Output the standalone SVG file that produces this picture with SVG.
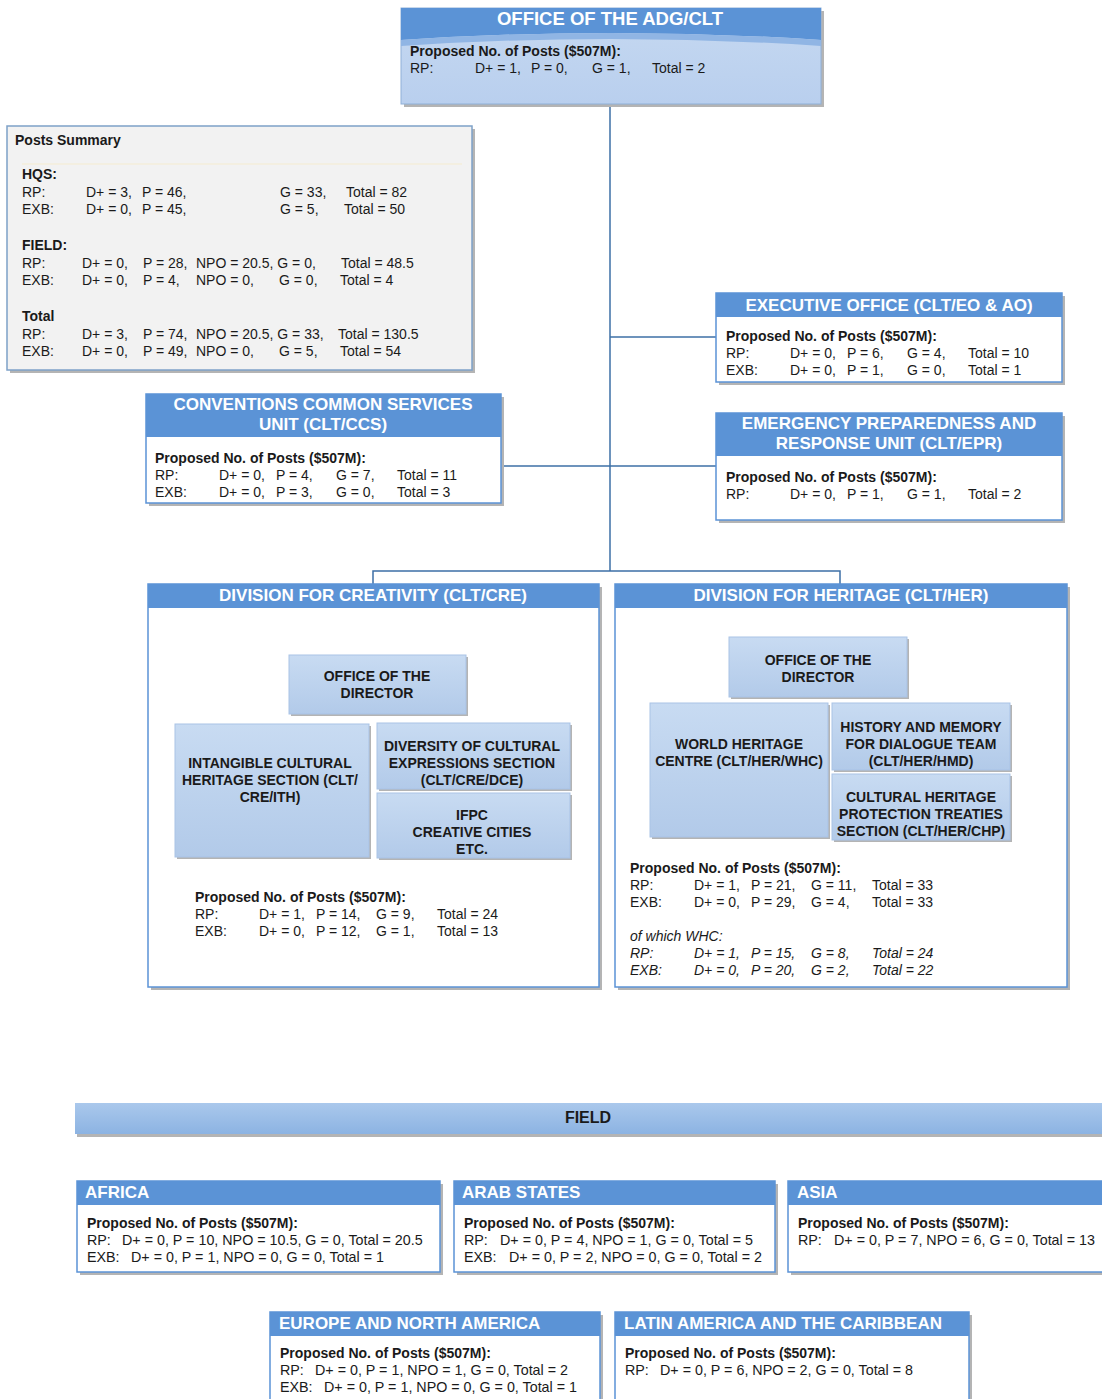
<svg xmlns="http://www.w3.org/2000/svg" width="1102" height="1399" viewBox="0 0 1102 1399">
<style>
.t{font-family:"Liberation Sans",Arial,sans-serif;font-size:14px;fill:#1a1a1a}
.f{font-size:14.3px}
.b{font-weight:bold}
.i{font-style:italic}
.h{font-family:"Liberation Sans",Arial,sans-serif;font-size:17px;font-weight:bold;fill:#ffffff}
.s{font-family:"Liberation Sans",Arial,sans-serif;font-size:14px;font-weight:bold;fill:#1a1a1a;text-anchor:middle}
.hb{fill:#5b93d6}
.wb{fill:#ffffff;stroke:#5b93d6;stroke-width:1.5}
.sh{fill:#b4b4b4}
.sub{fill:url(#subg);stroke:#a9c3e6;stroke-width:1}
.con{stroke:#3d6fa6;stroke-width:1.5;fill:none}
</style>
<defs>
<linearGradient id="subg" x1="0" y1="0" x2="0" y2="1"><stop offset="0" stop-color="#c8dbf2"/><stop offset="1" stop-color="#b2cae9"/></linearGradient>
<linearGradient id="topg" x1="0" y1="0" x2="0" y2="1"><stop offset="0" stop-color="#c6d9f1"/><stop offset="1" stop-color="#b9cfee"/></linearGradient>
<linearGradient id="fieldg" x1="0" y1="0" x2="0" y2="1"><stop offset="0" stop-color="#aac8ec"/><stop offset="1" stop-color="#8cb3e2"/></linearGradient>
</defs>

<g id="connectors">
<path class="con" d="M610,104 V571"/>
<path class="con" d="M610,337 H716"/>
<path class="con" d="M502,466 H716"/>
<path class="con" d="M373,584 V571 H840 V584"/>
</g>

<g id="adg">
<rect class="sh" x="404" y="11" width="420" height="96"/>
<rect x="401" y="8" width="420" height="96" fill="url(#topg)" stroke="#8fb0d8" stroke-width="1"/>
<path d="M401,8 H821 V40 Q611,26 401,40 Z" fill="#5b93d6"/>
<path d="M401,40 Q611,26 821,40 V46 Q611,32 401,46 Z" fill="#90b5e4"/>
<text class="h" x="610" y="25" text-anchor="middle" style="font-size:18.5px">OFFICE OF THE ADG/CLT</text>
<text class="t b" x="410" y="56">Proposed No. of Posts ($507M):</text>
<text class="t" y="73"><tspan x="410">RP:</tspan><tspan x="475">D+ = 1,</tspan><tspan x="531">P = 0,</tspan><tspan x="592">G = 1,</tspan><tspan x="652">Total = 2</tspan></text>
</g>

<g id="summary">
<rect class="sh" x="10" y="129" width="465" height="244"/>
<rect x="7" y="126" width="465" height="244" fill="#f2f2f2" stroke="#7ea1c8" stroke-width="1.5"/>
<line x1="22" y1="164" x2="462" y2="164" stroke="#f5ecd0" stroke-width="1"/>
<text class="t b" x="15" y="145">Posts Summary</text>
<text class="t b" x="22" y="179">HQS:</text>
<text class="t" y="197"><tspan x="22">RP:</tspan><tspan x="86">D+ = 3,</tspan><tspan x="142">P = 46,</tspan><tspan x="280">G = 33,</tspan><tspan x="346">Total = 82</tspan></text>
<text class="t" y="214"><tspan x="22">EXB:</tspan><tspan x="86">D+ = 0,</tspan><tspan x="142">P = 45,</tspan><tspan x="280">G = 5,</tspan><tspan x="344">Total = 50</tspan></text>
<text class="t b" x="22" y="250">FIELD:</text>
<text class="t" y="268"><tspan x="22">RP:</tspan><tspan x="82">D+ = 0,</tspan><tspan x="143">P = 28,</tspan><tspan x="196">NPO = 20.5, G = 0,</tspan><tspan x="341">Total = 48.5</tspan></text>
<text class="t" y="285"><tspan x="22">EXB:</tspan><tspan x="82">D+ = 0,</tspan><tspan x="143">P = 4,</tspan><tspan x="196">NPO = 0,</tspan><tspan x="279">G = 0,</tspan><tspan x="340">Total = 4</tspan></text>
<text class="t b" x="22" y="321">Total</text>
<text class="t" y="339"><tspan x="22">RP:</tspan><tspan x="82">D+ = 3,</tspan><tspan x="143">P = 74,</tspan><tspan x="196">NPO = 20.5, G = 33,</tspan><tspan x="338">Total = 130.5</tspan></text>
<text class="t" y="356"><tspan x="22">EXB:</tspan><tspan x="82">D+ = 0,</tspan><tspan x="143">P = 49,</tspan><tspan x="196">NPO = 0,</tspan><tspan x="279">G = 5,</tspan><tspan x="340">Total = 54</tspan></text>
</g>

<g id="exec">
<rect class="sh" x="719" y="296" width="346" height="89"/>
<rect class="wb" x="716" y="293" width="346" height="89"/>
<rect class="hb" x="716" y="293" width="346" height="24"/>
<text class="h" x="889" y="311" text-anchor="middle">EXECUTIVE OFFICE (CLT/EO &amp; AO)</text>
<text class="t b" x="726" y="341">Proposed No. of Posts ($507M):</text>
<text class="t" y="358"><tspan x="726">RP:</tspan><tspan x="790">D+ = 0,</tspan><tspan x="847">P = 6,</tspan><tspan x="907">G = 4,</tspan><tspan x="968">Total = 10</tspan></text>
<text class="t" y="375"><tspan x="726">EXB:</tspan><tspan x="790">D+ = 0,</tspan><tspan x="847">P = 1,</tspan><tspan x="907">G = 0,</tspan><tspan x="968">Total = 1</tspan></text>
</g>

<g id="epr">
<rect class="sh" x="719" y="416" width="346" height="107"/>
<rect class="wb" x="716" y="413" width="346" height="107"/>
<rect class="hb" x="716" y="413" width="346" height="43"/>
<text class="h" x="889" y="429" text-anchor="middle">EMERGENCY PREPAREDNESS AND</text>
<text class="h" x="889" y="449" text-anchor="middle">RESPONSE UNIT (CLT/EPR)</text>
<text class="t b" x="726" y="482">Proposed No. of Posts ($507M):</text>
<text class="t" y="499"><tspan x="726">RP:</tspan><tspan x="790">D+ = 0,</tspan><tspan x="847">P = 1,</tspan><tspan x="907">G = 1,</tspan><tspan x="968">Total = 2</tspan></text>
</g>

<g id="ccs">
<rect class="sh" x="149" y="397" width="355" height="109"/>
<rect class="wb" x="146" y="394" width="355" height="109"/>
<rect class="hb" x="146" y="394" width="355" height="43"/>
<text class="h" x="323" y="410" text-anchor="middle">CONVENTIONS COMMON SERVICES</text>
<text class="h" x="323" y="430" text-anchor="middle">UNIT (CLT/CCS)</text>
<text class="t b" x="155" y="463">Proposed No. of Posts ($507M):</text>
<text class="t" y="480"><tspan x="155">RP:</tspan><tspan x="219">D+ = 0,</tspan><tspan x="276">P = 4,</tspan><tspan x="336">G = 7,</tspan><tspan x="397">Total = 11</tspan></text>
<text class="t" y="497"><tspan x="155">EXB:</tspan><tspan x="219">D+ = 0,</tspan><tspan x="276">P = 3,</tspan><tspan x="336">G = 0,</tspan><tspan x="397">Total = 3</tspan></text>
</g>

<g id="cre">
<rect class="sh" x="151" y="587" width="451" height="403"/>
<rect class="wb" x="148" y="584" width="451" height="403"/>
<rect class="hb" x="148" y="584" width="451" height="24"/>
<text class="h" x="373" y="601" text-anchor="middle">DIVISION FOR CREATIVITY (CLT/CRE)</text>
<g id="cre-dir"><rect class="sh" x="291" y="657" width="177" height="59"/><rect class="sub" x="289" y="655" width="177" height="59"/>
<text class="s" x="377" y="681">OFFICE OF THE</text><text class="s" x="377" y="698">DIRECTOR</text></g>
<g id="cre-ith"><rect class="sh" x="177" y="726" width="194" height="133"/><rect class="sub" x="175" y="724" width="194" height="133"/>
<text class="s" x="270" y="768">INTANGIBLE CULTURAL</text><text class="s" x="270" y="785">HERITAGE SECTION (CLT/</text><text class="s" x="270" y="802">CRE/ITH)</text></g>
<g id="cre-dce"><rect class="sh" x="379" y="725" width="193" height="66"/><rect class="sub" x="377" y="723" width="193" height="66"/>
<text class="s" x="472" y="751">DIVERSITY OF CULTURAL</text><text class="s" x="472" y="768">EXPRESSIONS SECTION</text><text class="s" x="472" y="785">(CLT/CRE/DCE)</text></g>
<g id="cre-ifpc"><rect class="sh" x="379" y="795" width="193" height="65"/><rect class="sub" x="377" y="793" width="193" height="65"/>
<text class="s" x="472" y="820">IFPC</text><text class="s" x="472" y="837">CREATIVE CITIES</text><text class="s" x="472" y="854">ETC.</text></g>
<text class="t b" x="195" y="902">Proposed No. of Posts ($507M):</text>
<text class="t" y="919"><tspan x="195">RP:</tspan><tspan x="259">D+ = 1,</tspan><tspan x="316">P = 14,</tspan><tspan x="376">G = 9,</tspan><tspan x="437">Total = 24</tspan></text>
<text class="t" y="936"><tspan x="195">EXB:</tspan><tspan x="259">D+ = 0,</tspan><tspan x="316">P = 12,</tspan><tspan x="376">G = 1,</tspan><tspan x="437">Total = 13</tspan></text>
</g>

<g id="her">
<rect class="sh" x="618" y="587" width="452" height="403"/>
<rect class="wb" x="615" y="584" width="452" height="403"/>
<rect class="hb" x="615" y="584" width="452" height="24"/>
<text class="h" x="841" y="601" text-anchor="middle">DIVISION FOR HERITAGE (CLT/HER)</text>
<g id="her-dir"><rect class="sh" x="731" y="639" width="178" height="60"/><rect class="sub" x="729" y="637" width="178" height="60"/>
<text class="s" x="818" y="665">OFFICE OF THE</text><text class="s" x="818" y="682">DIRECTOR</text></g>
<g id="her-whc"><rect class="sh" x="652" y="705" width="178" height="134"/><rect class="sub" x="650" y="703" width="178" height="134"/>
<text class="s" x="739" y="749">WORLD HERITAGE</text><text class="s" x="739" y="766">CENTRE (CLT/HER/WHC)</text></g>
<g id="her-hmd"><rect class="sh" x="834" y="705" width="178" height="67"/><rect class="sub" x="832" y="703" width="178" height="67"/>
<text class="s" x="921" y="732">HISTORY AND MEMORY</text><text class="s" x="921" y="749">FOR DIALOGUE TEAM</text><text class="s" x="921" y="766">(CLT/HER/HMD)</text></g>
<g id="her-chp"><rect class="sh" x="834" y="776" width="178" height="66"/><rect class="sub" x="832" y="774" width="178" height="66"/>
<text class="s" x="921" y="802">CULTURAL HERITAGE</text><text class="s" x="921" y="819">PROTECTION TREATIES</text><text class="s" x="921" y="836">SECTION (CLT/HER/CHP)</text></g>
<text class="t b" x="630" y="873">Proposed No. of Posts ($507M):</text>
<text class="t" y="890"><tspan x="630">RP:</tspan><tspan x="694">D+ = 1,</tspan><tspan x="751">P = 21,</tspan><tspan x="811">G = 11,</tspan><tspan x="872">Total = 33</tspan></text>
<text class="t" y="907"><tspan x="630">EXB:</tspan><tspan x="694">D+ = 0,</tspan><tspan x="751">P = 29,</tspan><tspan x="811">G = 4,</tspan><tspan x="872">Total = 33</tspan></text>
<text class="t i" x="630" y="941">of which WHC:</text>
<text class="t i" y="958"><tspan x="630">RP:</tspan><tspan x="694">D+ = 1,</tspan><tspan x="751">P = 15,</tspan><tspan x="811">G = 8,</tspan><tspan x="872">Total = 24</tspan></text>
<text class="t i" y="975"><tspan x="630">EXB:</tspan><tspan x="694">D+ = 0,</tspan><tspan x="751">P = 20,</tspan><tspan x="811">G = 2,</tspan><tspan x="872">Total = 22</tspan></text>
</g>

<g id="field">
<rect class="sh" x="77" y="1106" width="1027" height="31"/>
<rect x="75" y="1103" width="1030" height="31" fill="url(#fieldg)"/>
<text class="t b" x="588" y="1123" text-anchor="middle" style="font-size:16px">FIELD</text>
</g>

<g id="africa">
<rect class="sh" x="80" y="1184" width="363" height="91"/>
<rect class="wb" x="77" y="1181" width="363" height="91"/>
<rect class="hb" x="77" y="1181" width="363" height="24"/>
<text class="h" x="85" y="1198">AFRICA</text>
<text class="t b" x="87" y="1228">Proposed No. of Posts ($507M):</text>
<text class="t f" y="1245"><tspan x="87">RP:</tspan><tspan x="122">D+ = 0, P = 10, NPO = 10.5, G = 0, Total = 20.5</tspan></text>
<text class="t f" y="1262"><tspan x="87">EXB:</tspan><tspan x="131">D+ = 0, P = 1, NPO = 0, G = 0, Total = 1</tspan></text>
</g>

<g id="arab">
<rect class="sh" x="457" y="1184" width="321" height="91"/>
<rect class="wb" x="454" y="1181" width="321" height="91"/>
<rect class="hb" x="454" y="1181" width="321" height="24"/>
<text class="h" x="462" y="1198">ARAB STATES</text>
<text class="t b" x="464" y="1228">Proposed No. of Posts ($507M):</text>
<text class="t f" y="1245"><tspan x="464">RP:</tspan><tspan x="500">D+ = 0, P = 4, NPO = 1, G = 0, Total = 5</tspan></text>
<text class="t f" y="1262"><tspan x="464">EXB:</tspan><tspan x="509">D+ = 0, P = 2, NPO = 0, G = 0, Total = 2</tspan></text>
</g>

<g id="asia">
<rect class="sh" x="791" y="1184" width="320" height="91"/>
<rect class="wb" x="788" y="1181" width="320" height="91"/>
<rect class="hb" x="788" y="1181" width="320" height="24"/>
<text class="h" x="797" y="1198">ASIA</text>
<text class="t b" x="798" y="1228">Proposed No. of Posts ($507M):</text>
<text class="t f" y="1245"><tspan x="798">RP:</tspan><tspan x="834">D+ = 0, P = 7, NPO = 6, G = 0, Total = 13</tspan></text>
</g>

<g id="europe">
<rect class="sh" x="273" y="1315" width="330" height="95"/>
<rect class="wb" x="270" y="1312" width="330" height="95"/>
<rect class="hb" x="270" y="1312" width="330" height="24"/>
<text class="h" x="279" y="1329">EUROPE AND NORTH AMERICA</text>
<text class="t b" x="280" y="1358">Proposed No. of Posts ($507M):</text>
<text class="t f" y="1375"><tspan x="280">RP:</tspan><tspan x="315">D+ = 0, P = 1, NPO = 1, G = 0, Total = 2</tspan></text>
<text class="t f" y="1392"><tspan x="280">EXB:</tspan><tspan x="324">D+ = 0, P = 1, NPO = 0, G = 0, Total = 1</tspan></text>
</g>

<g id="latin">
<rect class="sh" x="618" y="1315" width="354" height="95"/>
<rect class="wb" x="615" y="1312" width="354" height="95"/>
<rect class="hb" x="615" y="1312" width="354" height="24"/>
<text class="h" x="624" y="1329">LATIN AMERICA AND THE CARIBBEAN</text>
<text class="t b" x="625" y="1358">Proposed No. of Posts ($507M):</text>
<text class="t f" y="1375"><tspan x="625">RP:</tspan><tspan x="660">D+ = 0, P = 6, NPO = 2, G = 0, Total = 8</tspan></text>
</g>
</svg>
